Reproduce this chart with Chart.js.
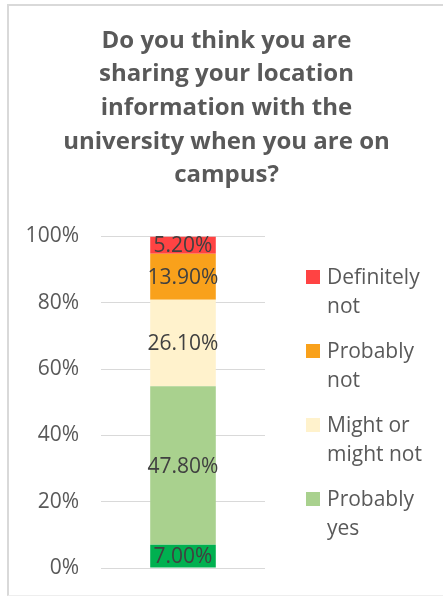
<!DOCTYPE html>
<html>
<head>
<meta charset="utf-8">
<script src="https://cdn.jsdelivr.net/npm/chart.js@4/dist/chart.umd.min.js"></script>
<style>
  html, body { margin: 0; padding: 0; background: #fff; }
  #wrap { position: relative; width: 443px; height: 597px; overflow: hidden; }
  #frame { position: absolute; left: 7px; top: 4px; width: 460px; height: 589px;
           border-left: 2px solid #D9D9D9; border-top: 2px solid #D9D9D9; border-bottom: 1px solid #EEEEEE;
           pointer-events: none; }
  canvas { position: absolute; left: 0; top: 0; }
</style>
</head>
<body>
<div id="wrap">
  <canvas id="c" width="443" height="597"></canvas>
  <div id="frame"></div>
</div>
<script>
const titleLines = ["Do you think you are", "sharing your location", "information with the", "university when you are on", "campus?"];
const categories = [""];
const seriesNames = ["Definitely yes", "Probably yes", "Might or might not", "Probably not", "Definitely not"];
const legendLines = [["Definitely", "yes"], ["Probably", "yes"], ["Might or", "might not"], ["Probably", "not"], ["Definitely", "not"]];
const seriesColors = ["#00B050", "#A9D18E", "#FFF2CC", "#F9A11B", "#FF4343"];
const definitelyYes = [7.0];
const probablyYes = [47.8];
const mightOrMightNot = [26.1];
const probablyNot = [13.9];
const definitelyNot = [5.2];
const yTicks = [0, 20, 40, 60, 80, 100];
const legendShown = [4, 3, 2, 1];   // series shown in the legend, top to bottom

const seriesValues = [definitelyYes, probablyYes, mightOrMightNot, probablyNot, definitelyNot];
const FONT = "'Open Sans', 'DejaVu Sans', sans-serif";

const dataLabels = {
  id: 'dataLabels',
  afterDatasetsDraw(chart) {
    const ctx = chart.ctx;
    ctx.save();
    ctx.font = "21px " + FONT;
    ctx.fillStyle = "#404040";
    ctx.textAlign = "center";
    ctx.textBaseline = "middle";
    chart.data.datasets.forEach((ds, i) => {
      const meta = chart.getDatasetMeta(i);
      meta.data.forEach((el, j) => {
        const v = ds.data[j];
        ctx.fillText(v.toFixed(2) + "%", el.x, (el.y + el.base) / 2 + 1);
      });
    });
    ctx.restore();
  }
};

const sideLegend = {
  id: 'sideLegend',
  afterDraw(chart) {
    const ctx = chart.ctx;
    const area = chart.chartArea;
    const lineH = 29, gap = 16, box = 14;
    let nLines = 0;
    legendShown.forEach(i => nLines += legendLines[i].length);
    const total = nLines * lineH + (legendShown.length - 1) * gap;
    let y = (area.top + area.bottom) / 2 - total / 2;
    const boxX = area.right + 41;
    const textX = boxX + box + 7;
    ctx.save();
    ctx.font = "21px " + FONT;
    ctx.textBaseline = "middle";
    ctx.textAlign = "left";
    legendShown.forEach(i => {
      const lines = legendLines[i];
      const c = y + lineH / 2;
      ctx.fillStyle = seriesColors[i];
      ctx.fillRect(boxX, Math.round(c - box / 2), box, box);
      ctx.fillStyle = "#595959";
      lines.forEach((t, k) => ctx.fillText(t, textX, c + k * lineH + 1));
      y += lines.length * lineH + gap;
    });
    ctx.restore();
  }
};

new Chart(document.getElementById('c'), {
  type: 'bar',
  data: {
    labels: categories,
    datasets: seriesNames.map((n, i) => ({
      label: n,
      data: seriesValues[i],
      backgroundColor: seriesColors[i],
      borderWidth: 0,
      categoryPercentage: 1,
      barPercentage: 0.4
    }))
  },
  plugins: [dataLabels, sideLegend],
  options: {
    responsive: false,
    animation: false,
    devicePixelRatio: 1,
    layout: { padding: { left: 10, right: 0, top: 0, bottom: 0 } },
    plugins: {
      tooltip: { enabled: false },
      legend: { display: false },
      title: {
        display: true,
        text: titleLines,
        color: "#595959",
        font: { family: FONT, size: 24, weight: 'bold', lineHeight: '33.7px' },
        padding: { top: 24, bottom: 44 }
      }
    },
    scales: {
      x: {
        display: true,
        stacked: true,
        afterFit(scale) { scale.height = 29; },
        ticks: { display: false },
        grid: { display: false, drawTicks: false },
        border: { display: false }
      },
      y: {
        stacked: true,
        min: 0,
        max: 100,
        afterBuildTicks(scale) { scale.ticks = yTicks.map(v => ({ value: v })); },
        afterFit(scale) { scale.width = 91; scale.paddingTop = 12; scale.paddingBottom = 12; },
        ticks: {
          padding: 22,
          color: "#595959",
          font: { family: FONT, size: 21 },
          callback: (v) => v + "%"
        },
        grid: { color: "#D9D9D9", lineWidth: 1, drawTicks: false },
        border: { display: false }
      },
      legendSpace: {
        type: 'linear',
        position: 'right',
        display: true,
        min: 0,
        max: 100,
        afterFit(scale) { scale.width = 178; },
        ticks: { display: false },
        grid: { display: false, drawTicks: false },
        border: { display: false }
      }
    }
  }
});
</script>
</body>
</html>
